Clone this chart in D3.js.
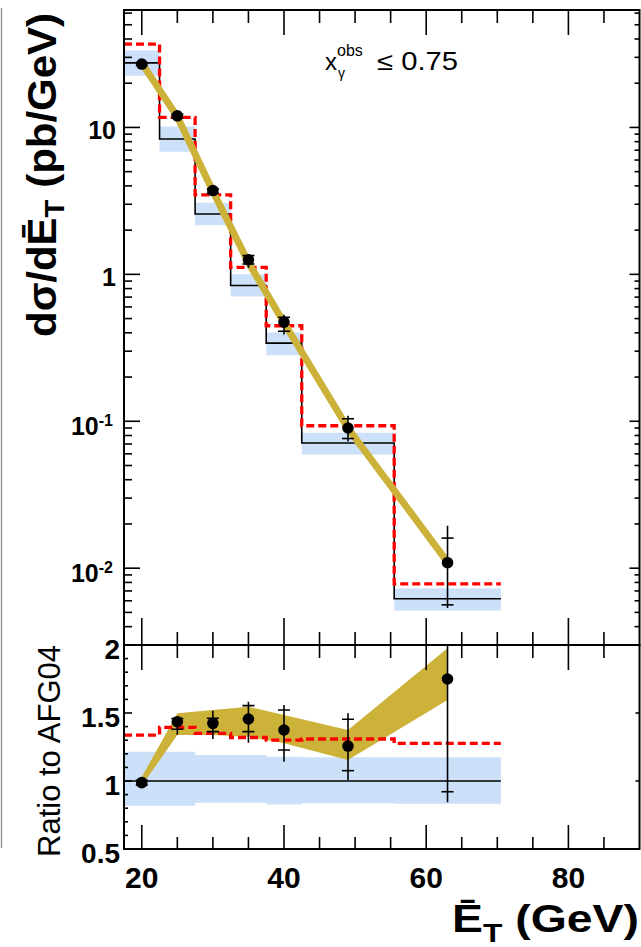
<!DOCTYPE html>
<html><head><meta charset="utf-8">
<script src="https://cdn.jsdelivr.net/npm/d3@7"></script>
<style>body{margin:0;background:#fff} svg{display:block}</style>
</head><body>
<script>
// ---------------- data ----------------
const binEdges = [17.5, 22.5, 27.5, 32.5, 37.5, 42.5, 55.5, 70.5];
const afg04 = [27.5, 8.34, 2.574, 0.840, 0.3405, 0.0711, 0.0062];      // black histogram
const afgBandLo = [0.818, 0.818, 0.84, 0.84, 0.828, 0.836, 0.832];     // blue band (ratio)
const afgBandHi = [1.215, 1.215, 1.191, 1.191, 1.179, 1.174, 1.174];
const redUpper = [36.96, 11.7, 3.48, 1.114, 0.4467, 0.0932, 0.00783]; // red dashed histogram
const redRatio = [1.338, 1.395, 1.35, 1.32, 1.30, 1.309, 1.277];
const ptsX = [20, 25, 30, 35, 40, 49, 63];
const dataVal = [27.0, 12.0, 3.72, 1.257, 0.473, 0.090, 0.0109];
const dataTotLo = [25.9, 11.3, 3.42, 1.106, 0.39, 0.0729, 0.00536];
const dataTotHi = [28.1, 12.4, 3.96, 1.367, 0.53, 0.109, 0.01944];
const dataStatLo = [26.4, 11.6, 3.56, 1.177, 0.41, 0.0763, 0.00563];
const dataStatHi = [27.6, 12.3, 3.82, 1.342, 0.51, 0.104, 0.01603];
const ratioVal = [0.988, 1.436, 1.424, 1.456, 1.375, 1.257, 1.75];
const ratioTotLo = [0.955, 1.34, 1.309, 1.282, 1.142, 1.007, 0.843];
const ratioTotHi = [1.02, 1.47, 1.517, 1.583, 1.559, 1.498, 3.1];
const ratioStatLo = [0.97, 1.38, 1.363, 1.363, 1.228, 1.076, 0.921];
const ratioStatHi = [1.005, 1.46, 1.461, 1.554, 1.522, 1.454, 2.6];
const goldLo = [0.965, 1.338, 1.338, 1.326, 1.277, 1.154, 1.596];
const goldHi = [1.03, 1.498, 1.522, 1.546, 1.485, 1.375, 1.976];
const xTicks = [20, 40, 60, 80];
const yUpperTicks = [0.01, 0.1, 1, 10];
const yLowerTicks = [0.5, 1, 1.5, 2];

// ---------------- layout ----------------
const W = 641, H = 947;
const X0 = 124, X1 = 639.5, YT = 10, YM = 645, YB = 849;
const BLUE = "#cce0fa", GOLD = "#cdb23a", RED = "#ff0000";

const svg = d3.select("body").append("svg").attr("width", W).attr("height", H)
  .style("font-family", "'Liberation Sans', Arial, sans-serif");

const x = d3.scaleLinear().domain([17.5, 90]).range([X0, X1]);
const yU = d3.scaleLog().domain([0.003, 63]).range([YM, YT]);
const yL = d3.scaleLinear().domain([0.5, 2]).range([YB, YM]);

const defs = svg.append("defs");
defs.append("clipPath").attr("id", "cu").append("rect")
  .attr("x", X0).attr("y", YT).attr("width", X1 - X0).attr("height", YM - YT);
defs.append("clipPath").attr("id", "cl").append("rect")
  .attr("x", X0).attr("y", YM).attr("width", X1 - X0).attr("height", YB - YM);

// grey border line at far left
svg.append("line").attr("x1", 1.5).attr("x2", 1.5).attr("y1", 8).attr("y2", 848)
  .attr("stroke", "#9a9a9a").attr("stroke-width", 1.5);

function stepPoints(vals, yS) {
  const p = [];
  vals.forEach((v, i) => { p.push([x(binEdges[i]), yS(v)]); p.push([x(binEdges[i + 1]), yS(v)]); });
  return p;
}
function bandPath(loVals, hiVals, yS) {
  const top = stepPoints(hiVals, yS);
  const bot = stepPoints(loVals, yS).reverse();
  return d3.line()(top.concat(bot)) + "Z";
}
const line = d3.line();

// ================= upper panel =================
const gu = svg.append("g").attr("clip-path", "url(#cu)");
gu.append("path")
  .attr("d", bandPath(afg04.map((v, i) => v * afgBandLo[i]), afg04.map((v, i) => v * afgBandHi[i]), yU))
  .attr("fill", BLUE);
gu.append("path").attr("d", line(stepPoints(afg04, yU))).attr("fill", "none")
  .attr("stroke", "#000").attr("stroke-width", 1.6);
gu.append("path").attr("d", line(stepPoints(redUpper, yU))).attr("fill", "none")
  .attr("stroke", RED).attr("stroke-width", 3.3).attr("stroke-dasharray", "8,4");
gu.append("path")
  .attr("d", line(ptsX.map((px, i) => [x(px), yU(afg04[i] * Math.sqrt(goldLo[i] * goldHi[i]))])))
  .attr("fill", "none").attr("stroke", GOLD).attr("stroke-width", 7);

function errBars(g, yS, val, tlo, thi, slo, shi) {
  ptsX.forEach((px, i) => {
    const cx = x(px);
    g.append("line").attr("x1", cx).attr("x2", cx).attr("y1", yS(thi[i])).attr("y2", yS(tlo[i]))
      .attr("stroke", "#000").attr("stroke-width", 1.6);
    [slo[i], shi[i]].forEach(s => g.append("line").attr("x1", cx - 6).attr("x2", cx + 6)
      .attr("y1", yS(s)).attr("y2", yS(s)).attr("stroke", "#000").attr("stroke-width", 1.6));
    g.append("circle").attr("cx", cx).attr("cy", yS(val[i])).attr("r", 5.8).attr("fill", "#000");
  });
}
errBars(gu, yU, dataVal, dataTotLo, dataTotHi, dataStatLo, dataStatHi);

// ================= lower panel =================
const gl = svg.append("g").attr("clip-path", "url(#cl)");
gl.append("path").attr("d", bandPath(afgBandLo, afgBandHi, yL)).attr("fill", BLUE);
gl.append("line").attr("x1", x(binEdges[0])).attr("x2", x(binEdges[binEdges.length - 1]))
  .attr("y1", yL(1)).attr("y2", yL(1)).attr("stroke", "#000").attr("stroke-width", 1.6);
gl.append("path").attr("d", d3.area().x((d, i) => x(ptsX[i])).y0((d, i) => yL(goldLo[i])).y1((d, i) => yL(goldHi[i]))(ptsX))
  .attr("fill", GOLD);
gl.append("path").attr("d", line(stepPoints(redRatio, yL))).attr("fill", "none")
  .attr("stroke", RED).attr("stroke-width", 3.3).attr("stroke-dasharray", "8,4");
errBars(gl, yL, ratioVal, ratioTotLo, ratioTotHi, ratioStatLo, ratioStatHi);

// ================= frames & ticks =================
function frame(y0, y1) {
  svg.append("rect").attr("x", X0).attr("y", y0).attr("width", X1 - X0).attr("height", y1 - y0)
    .attr("fill", "none").attr("stroke", "#000").attr("stroke-width", 2);
}
frame(YT, YM); frame(YM, YB);

function tick(x1, y1, x2, y2) {
  svg.append("line").attr("x1", x1).attr("y1", y1).attr("x2", x2).attr("y2", y2)
    .attr("stroke", "#000").attr("stroke-width", 1.6);
}
const xMinor = d3.range(20, 90, 5);
xMinor.forEach(v => {
  const major = xTicks.includes(v);
  const px = x(v);
  tick(px, YT, px, YT + (major ? 25 : 13));
  tick(px, YM, px, YM - (major ? 27 : 13));
  tick(px, YM, px, YM + (major ? 25 : 13));
  tick(px, YB, px, YB - (major ? 24 : 12));
});
const [ld0, ld1] = yU.domain();
for (let e = -3; e <= 1; e++) {
  for (let k = 1; k <= 9; k++) {
    const v = k * Math.pow(10, e);
    if (v < ld0 || v > ld1) continue;
    const py = yU(v);
    const major = k === 1;
    tick(X0, py, X0 + (major ? 16 : 8), py);
    tick(X1, py, X1 - (major ? 10 : 5), py);
  }
}
d3.range(0.5, 2.0001, 0.1).forEach(v => {
  const py = yL(v);
  const major = Math.abs(v * 2 - Math.round(v * 2)) < 1e-6;
  tick(X0, py, X0 + (major ? 8 : 4), py);
  if (major) tick(X1, py, X1 - 4, py);
});

// ================= tick labels =================
yUpperTicks.forEach(v => {
  const e = Math.round(Math.log10(v));
  const t = svg.append("text").attr("text-anchor", "end").attr("font-weight", "bold")
    .attr("font-size", 25).attr("fill", "#000");
  if (e >= 0) {
    t.attr("x", 116).attr("y", yU(v) + 12).text(String(v));
  } else {
    t.attr("x", 113).attr("y", yU(v) + 14);
    t.append("tspan").text("10");
    t.append("tspan").attr("font-size", 16).attr("dy", -9).text("-" + (-e));
  }
});
yLowerTicks.forEach(v => {
  svg.append("text").attr("text-anchor", "end").attr("font-weight", "bold").attr("font-size", 28)
    .attr("x", 120).attr("y", yL(v) + 14).text(String(v));
});
xTicks.forEach(v => {
  svg.append("text").attr("text-anchor", "middle").attr("font-weight", "bold").attr("font-size", 30)
    .attr("x", x(v)).attr("y", 888).text(String(v));
});

// ================= titles =================
const yt = svg.append("text").attr("transform", "translate(56,337) rotate(-90)")
  .attr("font-weight", "bold").attr("font-size", 40)
  .attr("textLength", 324).attr("lengthAdjust", "spacingAndGlyphs");
yt.append("tspan").text("dσ/dĒ");
yt.append("tspan").attr("font-size", 28).attr("dy", 8).text("T");
yt.append("tspan").attr("dy", -8).text(" (pb/GeV)");

svg.append("text").attr("transform", "translate(60,857) rotate(-90)")
  .attr("font-size", 31).attr("textLength", 212).attr("lengthAdjust", "spacingAndGlyphs")
  .text("Ratio to AFG04");

const xt = svg.append("text").attr("x", 452).attr("y", 932).attr("font-weight", "bold")
  .attr("font-size", 38).attr("textLength", 187).attr("lengthAdjust", "spacingAndGlyphs");
xt.append("tspan").text("Ē");
xt.append("tspan").attr("font-size", 26).attr("dy", 10).text("T");
xt.append("tspan").attr("dy", -10).text(" (GeV)");

// annotation
svg.append("text").attr("x", 325).attr("y", 70).attr("font-size", 24).text("x");
svg.append("text").attr("x", 337).attr("y", 56).attr("font-size", 16).text("obs");
svg.append("text").attr("x", 338).attr("y", 78).attr("font-size", 14).text("γ");
svg.append("text").attr("x", 377).attr("y", 70).attr("font-size", 25)
  .attr("textLength", 81).attr("lengthAdjust", "spacingAndGlyphs").text("≤ 0.75");
</script>
</body></html>
